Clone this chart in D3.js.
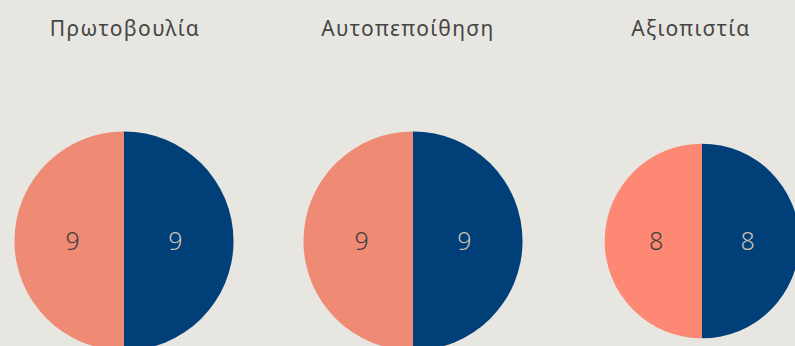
<!DOCTYPE html>
<html>
<head>
<meta charset="utf-8">
<script src="https://cdn.jsdelivr.net/npm/d3@7"></script>
<style>
  html, body { margin: 0; padding: 0; background: #e8e6e0; }
  svg { display: block; }
</style>
</head>
<body>
<svg id="chart" width="795" height="346"></svg>
<script>
// Traits and the two group scores for each
const traits = ["Πρωτοβουλία", "Αυτοπεποίθηση", "Αξιοπιστία"];
const groupA = [9, 9, 8];   // right half
const groupB = [9, 9, 8];   // left half
const leftColors = ["#ef8a75", "#ef8a75", "#fd8873"];
const rightColor = "#013f79";

const W = 795, H = 346;
const svg = d3.select("#chart");

svg.append("rect").attr("width", W).attr("height", H).attr("fill", "#e8e6e0");

// horizontal placement of the pies and the titles
const xPie = d3.scalePoint().domain(traits).range([124, 702]);
const xTitle = d3.scalePoint().domain(traits).range([125, 691]);

// pie size grows linearly with the combined score
const rScale = d3.scaleLinear().domain([0, 18]).range([0, 109.5]);

const pie = d3.pie().sort(null).value(d => d.value);

traits.forEach((t, i) => {
  const total = groupA[i] + groupB[i];
  const r = rScale(total);
  const arc = d3.arc().innerRadius(0).outerRadius(r);
  const slices = pie([
    { key: "A", value: groupA[i], fill: rightColor, text: "#c9c1b0" },
    { key: "B", value: groupB[i], fill: leftColors[i], text: "#3e3e3e" }
  ]);

  const g = svg.append("g").attr("transform", `translate(${xPie(t)},241)`);
  g.selectAll("path").data(slices).join("path")
    .attr("d", arc)
    .attr("fill", d => d.data.fill);

  g.selectAll("text").data(slices).join("text")
    .attr("transform", d => {
      const [cx, cy] = arc.centroid(d);
      return `translate(${cx * 0.94},${cy})`;
    })
    .attr("text-anchor", "middle")
    .attr("dy", "0.36em")
    .attr("font-family", "'Noto Sans', sans-serif")
    .attr("font-weight", 300)
    .attr("font-size", 25)
    .attr("fill", d => d.data.text)
    .text(d => d.data.value);

  svg.append("text")
    .attr("x", xTitle(t))
    .attr("y", 36)
    .attr("text-anchor", "middle")
    .attr("font-family", "'Noto Sans', sans-serif")
    .attr("font-size", 21)
    .attr("letter-spacing", "1.4px")
    .attr("fill", "#454545")
    .text(t);
});
</script>
</body>
</html>
